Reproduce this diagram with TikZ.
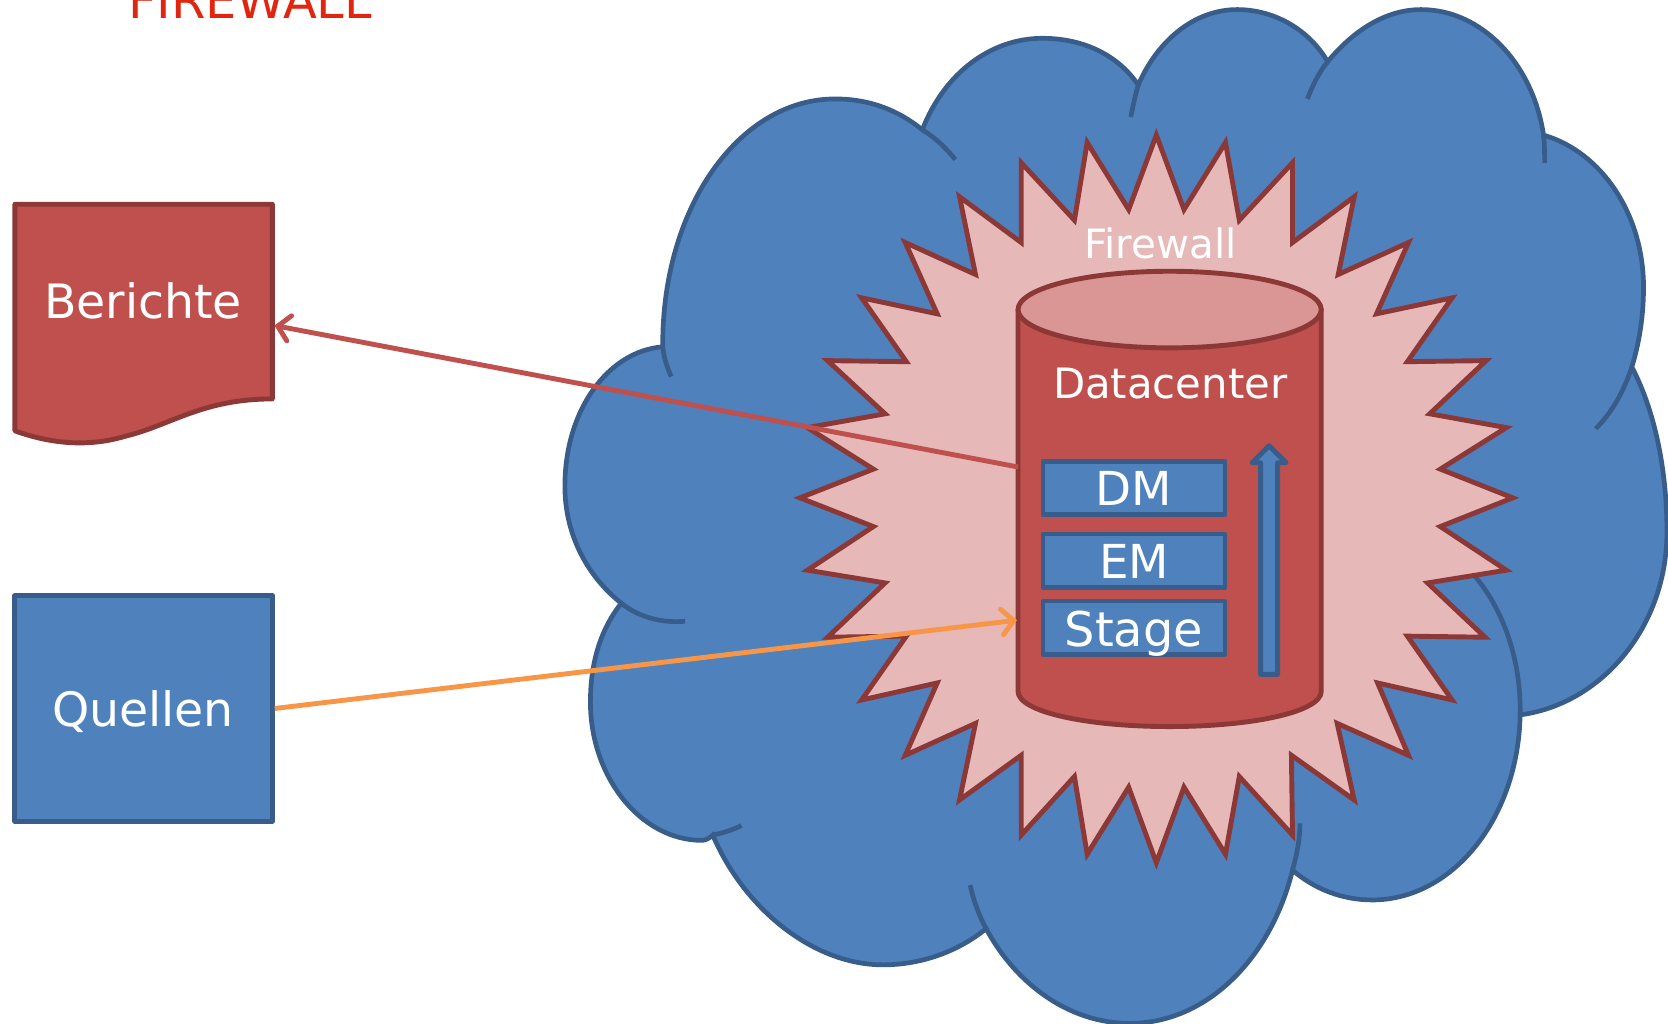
\documentclass[tikz,border=0pt]{standalone}
\usepackage{fontspec}
\setmainfont{DejaVu Sans}
\usetikzlibrary{arrows.meta}
\definecolor{bluefill}{HTML}{4F81BD}
\definecolor{blueline}{HTML}{385D8A}
\definecolor{redfill}{HTML}{C0504D}
\definecolor{redline}{HTML}{8C3836}
\definecolor{starfill}{HTML}{E6B9B8}
\definecolor{capfill}{HTML}{D99694}
\definecolor{orangeline}{HTML}{F79646}
\definecolor{titlered}{HTML}{E0260F}
\tikzset{
  x=1pt,y=-1pt,
  lbl/.style={text=white,inner sep=0pt,font=\fontsize{#1}{#1}\selectfont},
  bluebox/.style={draw=blueline,fill=bluefill,line width=4.6pt,line join=round},
  redshape/.style={draw=redline,fill=redfill,line width=4.6pt,line join=round},
  cloudline/.style={draw=blueline,line width=4.4pt},
  barb/.style={-{Straight Barb[length=11pt,width=24pt,line cap=round]}},
}
\begin{document}
\begin{tikzpicture}
\useasboundingbox (0,0) rectangle (1568,962.6);
% cloud
\filldraw[cloudline,fill=bluefill]
 (623,326) .. controls (622,195) and (695,93) .. (785,93)
 .. controls (818,93) and (845,104) .. (867,122)
 .. controls (888,68) and (932,36) .. (980,36)
 .. controls (1020,36) and (1052,53) .. (1070,80)
 .. controls (1088,38) and (1123,9) .. (1163,9)
 .. controls (1197,9) and (1230,27) .. (1248,58)
 .. controls (1273,28) and (1303,9) .. (1336,9)
 .. controls (1393,9) and (1441,60) .. (1451,127)
 .. controls (1506,143) and (1545,202) .. (1545,270)
 .. controls (1545,297) and (1541,322) .. (1534,345)
 .. controls (1555,385) and (1567,440) .. (1567,500)
 .. controls (1567,590) and (1505,662) .. (1429,672)
 .. controls (1427,770) and (1365,846) .. (1290,846)
 .. controls (1262,846) and (1236,836) .. (1215,818)
 .. controls (1195,900) and (1135,962) .. (1062,962)
 .. controls (1005,962) and (955,925) .. (927,873)
 .. controls (900,895) and (865,907) .. (830,907)
 .. controls (765,907) and (700,855) .. (670,785)
 .. controls (667,788) and (663,790) .. (660,790)
 .. controls (602,790) and (555,730) .. (555,660)
 .. controls (555,620) and (566,590) .. (584,567)
 .. controls (550,540) and (531,500) .. (531,457)
 .. controls (531,385) and (572,330) .. (623,326) -- cycle;
\draw[cloudline] (623,326) .. controls (624,336) and (627,345) .. (631,354);
\draw[cloudline] (867,122) .. controls (880,130) and (890,140) .. (898,150);
\draw[cloudline] (1070,80) .. controls (1067,90) and (1065,100) .. (1063,110);
\draw[cloudline] (1248,58) .. controls (1240,68) and (1234,80) .. (1229,93);
\draw[cloudline] (1451,127) .. controls (1452,136) and (1452,145) .. (1452,153);
\draw[cloudline] (1534,345) .. controls (1525,372) and (1513,390) .. (1500,403);
\draw[cloudline] (1429,672) .. controls (1430,620) and (1413,572) .. (1385,540);
\draw[cloudline] (1215,818) .. controls (1219,803) and (1222,790) .. (1222,774);
\draw[cloudline] (927,873) .. controls (920,860) and (915,846) .. (912,832);
\draw[cloudline] (670,785) .. controls (680,783) and (689,780) .. (697,776);
\draw[cloudline] (584,567) .. controls (600,580) and (622,586) .. (644,584);
% starburst
\filldraw[draw=redline,fill=starfill,line width=4.6pt,line join=miter]
 (1087,127)--(1113,197)--(1152,134)--(1165,207)--(1215,153)--(1215,228)--(1273,185)--(1258,258)
 --(1324,228)--(1294,295)--(1365,280)--(1323,340)--(1397,339)--(1344,389)--(1416,402)--(1354,441)
 --(1422,468)--(1354,495)--(1416,536)--(1342,548)--(1396,599)--(1323,598)--(1365,658)--(1295,642)
 --(1324,710)--(1257,680)--(1273,752)--(1214,710)--(1215,785)--(1165,730)--(1152,803)--(1113,740)
 --(1087,811)--(1061,740)--(1022,803)--(1010,730)--(960,785)--(960,710)--(902,752)--(917,680)
 --(851,710)--(881,642)--(810,658)--(852,598)--(778,599)--(832,548)--(759,536)--(821,495)
 --(752,468)--(821,441)--(759,402)--(832,389)--(778,339)--(852,340)--(810,280)--(881,295)
 --(851,228)--(917,258)--(902,185)--(960,228)--(960,153)--(1010,207)--(1022,134)--(1061,197)--cycle;
\node[lbl=38] (firewall) at (1091,229) {Firewall};
% cylinder
\filldraw[redshape] (957,291) -- (957,650) .. controls (957,669) and (1021,683) .. (1099.5,683)
 .. controls (1178,683) and (1242,669) .. (1242,650) -- (1242,291) -- cycle;
\filldraw[redshape,fill=capfill] (1099.5,291) ellipse [x radius=142.5,y radius=36];
\node[lbl=39.3] (datacenter) at (1100,361) {Datacenter};
\coordinate (dcout) at (957,439);
\coordinate (dcin) at (956,583);
% layers
\node[bluebox,minimum width=171pt,minimum height=50pt,inner sep=0pt,anchor=center] (dm) at (1066,459) {};
\node[bluebox,minimum width=171pt,minimum height=50pt,inner sep=0pt] (em) at (1066,527) {};
\node[bluebox,minimum width=171pt,minimum height=50pt,inner sep=0pt] (stage) at (1066,590) {};
\node[lbl=44] (dmtext) at (1066,459) {DM};
\node[lbl=44] (emtext) at (1066,528) {EM};
\node[lbl=45] (stagetext) at (1066,596) {Stage};
\filldraw[bluebox] (1185,634) -- (1185,435) -- (1177,435) -- (1193,419) -- (1209,435) -- (1201,435) -- (1201,634) -- cycle;
% left shapes
\filldraw[redshape] (14,192) -- (256,192) -- (256,375) .. controls (190,375) and (160,400) .. (118,410)
 .. controls (85,420) and (50,418) .. (14,405) -- cycle;
\coordinate (berichte) at (258,306);
\node[lbl=44.5] (bt) at (134.5,283) {Berichte};
\node[bluebox,minimum width=242pt,minimum height=212pt,inner sep=0pt] (quellen) at (135,666) {};
\node[lbl=44.5] (qt) at (134.5,669) {Quellen};
% connectors
\draw[barb,draw=redfill,line width=4.6pt] (dcout) -- (berichte);
\draw[barb,draw=orangeline,line width=4.6pt] (quellen.east) -- (dcin);
% title
\node[inner sep=0pt,anchor=base,text=titlered,font=\fontsize{46.5}{46.5}\selectfont] (title) at (235,17) {FIREWALL};
\end{tikzpicture}
\end{document}
